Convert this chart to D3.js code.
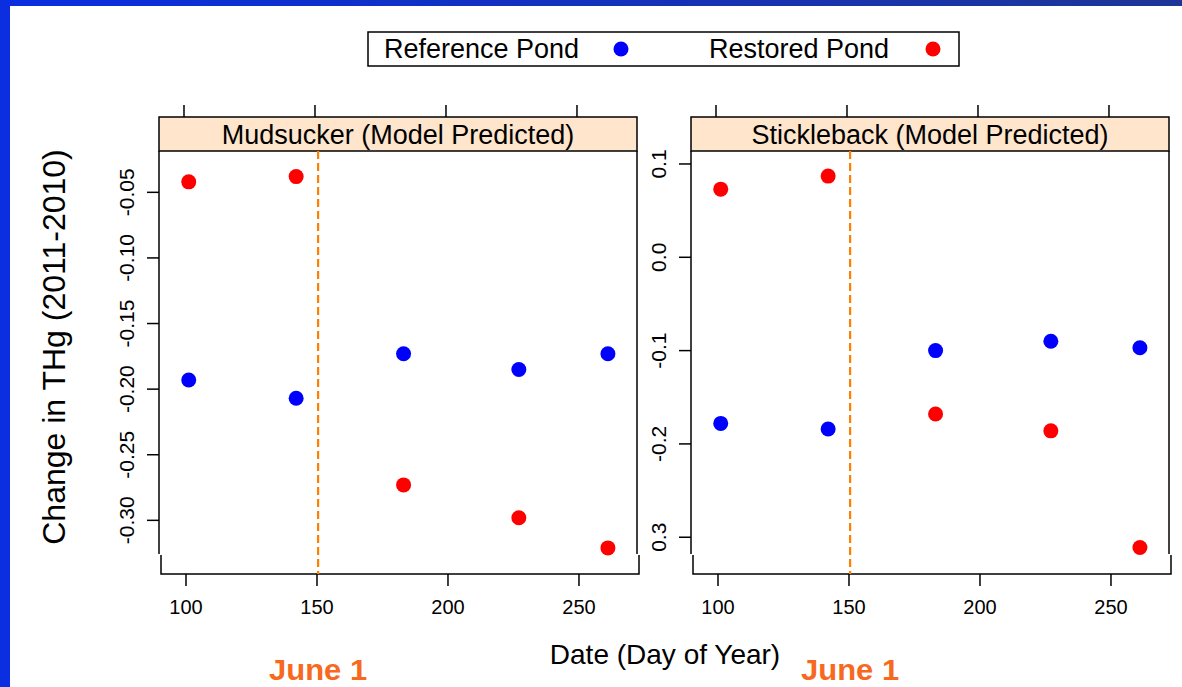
<!DOCTYPE html>
<html>
<head>
<meta charset="utf-8">
<script src="https://cdn.jsdelivr.net/npm/d3@7"></script>
<style>
    html, body { margin: 0; padding: 0; background: #ffffff; }
    svg { display: block; font-family: "Liberation Sans", Arial, sans-serif; }
</style>
</head>
<body>
<div id="chart-area"></div>
<script>
// === Data ===
const days = [102, 143, 184, 228, 262];                           // sampling date (day of year)
const mudsuckerReference = [-0.193, -0.207, -0.173, -0.185, -0.173];
const mudsuckerRestored = [-0.042, -0.038, -0.273, -0.298, -0.321];
const sticklebackReference = [-0.178, -0.184, -0.100, -0.090, -0.097];
const sticklebackRestored = [0.073, 0.087, -0.168, -0.186, -0.311];
const june1Day = 151;                                             // dashed reference line
const xTicks = [100, 150, 200, 250];
const mudsuckerYTicks = [-0.05, -0.10, -0.15, -0.20, -0.25, -0.30];
const mudsuckerYLabels = ["-0.05", "-0.10", "-0.15", "-0.20", "-0.25", "-0.30"];
const sticklebackYTicks = [0.1, 0.0, -0.1, -0.2, -0.3];
const sticklebackYLabels = ["0.1", "0.0", "-0.1", "-0.2", "0.3"];  // minus of the last one is hidden in the picture
const seriesNames = ["Reference Pond", "Restored Pond"];

// === Colours ===
const COLOR_REF = "#0000ff";
const COLOR_RES = "#ff0000";
const COLOR_STRIP = "#ffe5cc";
const COLOR_DASH = "#ff8000";
const COLOR_JUNE = "#f7691e";

const svgWidth = 1182, svgHeight = 687;
const plotTop = 151, stripTop = 117, frameBreak = 554, plotBottom = 574;

const svg = d3.select("#chart-area")
    .append("svg")
    .attr("width", svgWidth)
    .attr("height", svgHeight);

// Blue slide frame (top and left bands)
const defs = svg.append("defs");
const grad = defs.append("linearGradient").attr("id", "topBand");
grad.append("stop").attr("offset", "0%").attr("stop-color", "#0a2ee0");
grad.append("stop").attr("offset", "100%").attr("stop-color", "#1d3597");
svg.append("rect").attr("x", 0).attr("y", 0).attr("width", svgWidth).attr("height", 6).attr("fill", "url(#topBand)");
svg.append("rect").attr("x", 0).attr("y", 0).attr("width", 10).attr("height", svgHeight).attr("fill", "#0a2ee0");

/**
 * Draws one lattice-style panel: strip, frame, ticks, dashed June 1 line and points.
 */
function drawPanel(left, right, title, yDomain, yTicks, yLabels, refValues, resValues) {
    const g = svg.append("g");

    const x = d3.scaleLinear().domain([90.65, 273.1]).range([left, right]);
    const y = d3.scaleLinear().domain(yDomain).range([plotBottom, plotTop]);

    // Strip with panel title
    g.append("rect")
        .attr("x", left).attr("y", stripTop)
        .attr("width", right - left).attr("height", plotTop - stripTop)
        .attr("fill", COLOR_STRIP).attr("stroke", "#000").attr("stroke-width", 1.5);
    g.append("text")
        .attr("x", (left + right) / 2).attr("y", plotTop - 7)
        .attr("text-anchor", "middle")
        .style("font-size", "27px")
        .text(title);

    // Top ticks (no labels)
    g.append("g")
        .attr("transform", `translate(0,${stripTop})`)
        .call(d3.axisTop(x).tickValues(xTicks).tickSize(12).tickFormat(""))
        .call(a => a.select(".domain").remove())
        .selectAll("line").attr("stroke-width", 1.5);

    // Left axis
    const yAxis = g.append("g")
        .attr("transform", `translate(${left},0)`)
        .call(d3.axisLeft(y).tickValues(yTicks).tickSize(12).tickFormat((d, i) => yLabels[i]));
    yAxis.select(".domain").remove();
    yAxis.selectAll("line").attr("stroke-width", 1.5);
    yAxis.selectAll("text")
        .attr("x", null).attr("dy", null)
        .attr("transform", d => `translate(-25,${y(d)}) rotate(-90)`)
        .attr("y", 0)
        .style("text-anchor", "middle")
        .style("font-size", "21px")
        .style("font-family", "Liberation Sans, Arial, sans-serif")
        .attr("fill", "#000");
    yAxis.selectAll(".tick").attr("transform", null);
    yAxis.selectAll(".tick line").attr("transform", d => `translate(0,${y(d)})`);

    // Upper frame sides
    g.append("line").attr("x1", left).attr("x2", left).attr("y1", plotTop).attr("y2", frameBreak)
        .attr("stroke", "#000").attr("stroke-width", 1.5);
    g.append("line").attr("x1", right).attr("x2", right).attr("y1", plotTop).attr("y2", frameBreak)
        .attr("stroke", "#000").attr("stroke-width", 1.5);

    // Bottom part is shifted 2px in the picture
    const bottom = g.append("g").attr("transform", "translate(2,0)");
    bottom.append("path")
        .attr("d", `M${left},${frameBreak + 1}V${plotBottom}H${right}V${frameBreak + 1}`)
        .attr("fill", "none").attr("stroke", "#000").attr("stroke-width", 1.5);
    const xAxis = bottom.append("g")
        .attr("transform", `translate(0,${plotBottom})`)
        .call(d3.axisBottom(x).tickValues(xTicks).tickSize(12).tickPadding(14));
    xAxis.select(".domain").remove();
    xAxis.selectAll("line").attr("stroke-width", 1.5);
    xAxis.selectAll("text")
        .style("font-size", "20px")
        .style("font-family", "Liberation Sans, Arial, sans-serif")
        .attr("fill", "#000");

    // Dashed June 1 line
    g.append("line")
        .attr("x1", x(june1Day) + 1).attr("x2", x(june1Day) + 1)
        .attr("y1", plotTop).attr("y2", plotBottom)
        .attr("stroke", COLOR_DASH).attr("stroke-width", 2.2)
        .attr("stroke-dasharray", "8,4");

    // Points
    g.selectAll(".ref").data(refValues).enter().append("circle")
        .attr("cx", (d, i) => x(days[i])).attr("cy", d => y(d))
        .attr("r", 7.5).attr("fill", COLOR_REF);
    g.selectAll(".res").data(resValues).enter().append("circle")
        .attr("cx", (d, i) => x(days[i])).attr("cy", d => y(d))
        .attr("r", 7.5).attr("fill", COLOR_RES);

    // "June 1" caption under the dashed line
    g.append("text")
        .attr("x", x(june1Day) + 1).attr("y", 680)
        .attr("text-anchor", "middle")
        .attr("textLength", 98).attr("lengthAdjust", "spacingAndGlyphs")
        .style("font-size", "30px").style("font-weight", "bold")
        .attr("fill", COLOR_JUNE)
        .text("June 1");
}

drawPanel(159, 637, "Mudsucker (Model Predicted)", [-0.3409, -0.0185],
    mudsuckerYTicks, mudsuckerYLabels, mudsuckerReference, mudsuckerRestored);
drawPanel(691, 1169, "Stickleback (Model Predicted)", [-0.3394, 0.1139],
    sticklebackYTicks, sticklebackYLabels, sticklebackReference, sticklebackRestored);

// Legend
const legend = svg.append("g");
legend.append("rect")
    .attr("x", 368).attr("y", 32).attr("width", 591).attr("height", 34)
    .attr("fill", "#fff").attr("stroke", "#000").attr("stroke-width", 1.5);
const legendItems = [
    { label: seriesNames[0], tx: 384, dot: 621, color: COLOR_REF },
    { label: seriesNames[1], tx: 709, dot: 933, color: COLOR_RES }
];
legendItems.forEach(item => {
    legend.append("text")
        .attr("x", item.tx).attr("y", 58)
        .style("font-size", "27px")
        .text(item.label);
    legend.append("circle")
        .attr("cx", item.dot).attr("cy", 49).attr("r", 7.5)
        .attr("fill", item.color);
});

// Axis titles
svg.append("text")
    .attr("transform", "translate(65,347) rotate(-90)")
    .attr("text-anchor", "middle")
    .style("font-size", "32px")
    .text("Change in THg (2011-2010)");
svg.append("text")
    .attr("x", 665).attr("y", 664)
    .attr("text-anchor", "middle")
    .style("font-size", "28px")
    .text("Date (Day of Year)");
</script>
</body>
</html>
